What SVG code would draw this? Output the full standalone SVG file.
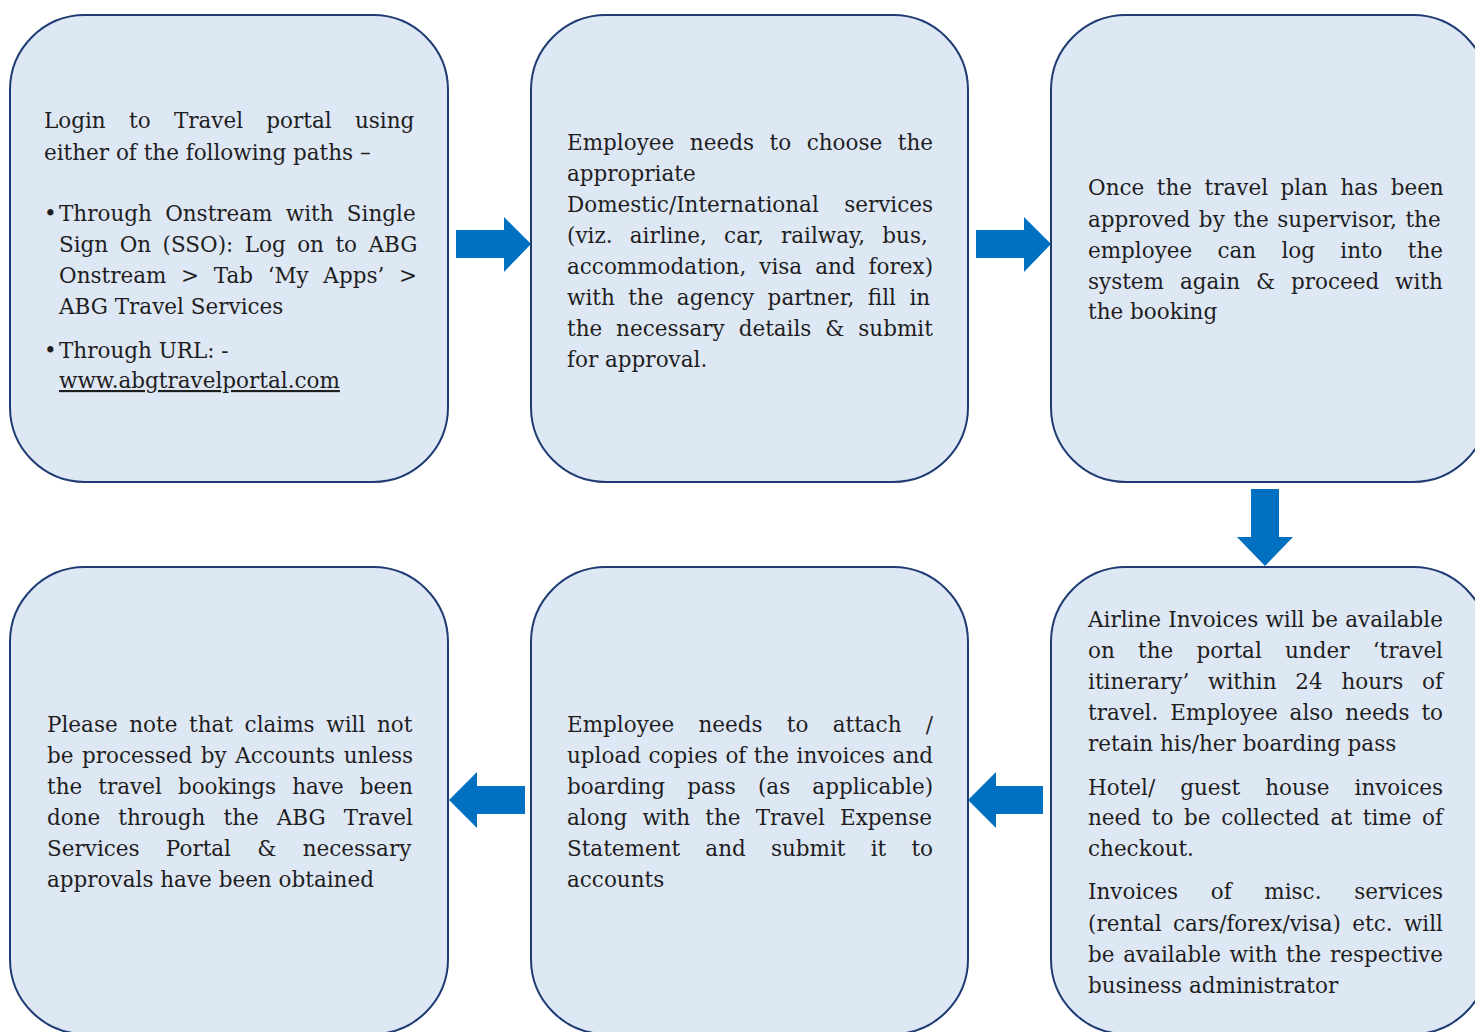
<svg xmlns="http://www.w3.org/2000/svg" width="1475" height="1032" viewBox="0 0 1475 1032">
<style>
.box{fill:#DEE8F5;stroke:#1F3B73;stroke-width:2}
.arr{fill:#0070C0}
.t{font-family:"DejaVu Serif","Liberation Serif",serif;font-size:21.5px;fill:#1e1e1e}
</style>
<rect width="1475" height="1032" fill="#ffffff"/>
<g id="connectors">
<polygon class="arr" points="456,230 504,230 504,217 531,244 504,272 504,258 456,258"/>
<polygon class="arr" points="976,230 1024,230 1024,217 1051,244 1024,272 1024,258 976,258"/>
<polygon class="arr" points="1251,489 1279,489 1279,537 1293,537 1265,566 1237,537 1251,537"/>
<polygon class="arr" points="1043,786 996,786 996,772 968,800 996,828 996,814 1043,814"/>
<polygon class="arr" points="525,786 477,786 477,772 449,800 477,828 477,814 525,814"/>
</g>
<g id="node1">
<rect class="box" x="10" y="15" width="438" height="467" rx="75" ry="75"/>
<text class="t" x="44" y="128" word-spacing="16.46">Login to Travel portal using</text>
<text class="t" x="44" y="160">either of the following paths –</text>
<text class="t" x="44" y="221">•</text>
<text class="t" x="59" y="221" word-spacing="6.45">Through Onstream with Single</text>
<text class="t" x="59" y="252" word-spacing="4.61">Sign On (SSO): Log on to ABG</text>
<text class="t" x="59" y="283" word-spacing="7.85">Onstream &gt; Tab ‘My Apps’ &gt;</text>
<text class="t" x="59" y="314">ABG Travel Services</text>
<text class="t" x="44" y="358">•</text>
<text class="t" x="59" y="358">Through URL: -</text>
<text class="t" x="59" y="388" text-decoration="underline">www.abgtravelportal.com</text>
</g>
<g id="node2">
<rect class="box" x="531" y="15" width="437" height="467" rx="75" ry="75"/>
<text class="t" x="567" y="150" word-spacing="8.75">Employee needs to choose the</text>
<text class="t" x="567" y="181">appropriate</text>
<text class="t" x="567" y="212" word-spacing="18.52">Domestic/International services</text>
<text class="t" x="567" y="243" word-spacing="10.37">(viz. airline, car, railway, bus,</text>
<text class="t" x="567" y="274" word-spacing="6.17">accommodation, visa and forex)</text>
<text class="t" x="567" y="305" word-spacing="6.60">with the agency partner, fill in</text>
<text class="t" x="567" y="336" word-spacing="7.06">the necessary details &amp; submit</text>
<text class="t" x="567" y="367">for approval.</text>
</g>
<g id="node3">
<rect class="box" x="1051" y="15" width="437" height="467" rx="75" ry="75"/>
<text class="t" x="1088" y="195" word-spacing="5.71">Once the travel plan has been</text>
<text class="t" x="1088" y="227" word-spacing="1.84">approved by the supervisor, the</text>
<text class="t" x="1088" y="258" word-spacing="18.39">employee can log into the</text>
<text class="t" x="1088" y="289" word-spacing="9.08">system again &amp; proceed with</text>
<text class="t" x="1088" y="319">the booking</text>
</g>
<g id="node4">
<rect class="box" x="1051" y="567" width="437" height="467" rx="75" ry="75"/>
<text class="t" x="1088" y="627" word-spacing="0.32">Airline Invoices will be available</text>
<text class="t" x="1088" y="658" word-spacing="16.39">on the portal under ‘travel</text>
<text class="t" x="1088" y="689" word-spacing="11.91">itinerary’ within 24 hours of</text>
<text class="t" x="1088" y="720" word-spacing="5.19">travel. Employee also needs to</text>
<text class="t" x="1088" y="751">retain his/her boarding pass</text>
<text class="t" x="1088" y="795" word-spacing="18.14">Hotel/ guest house invoices</text>
<text class="t" x="1088" y="825" word-spacing="3.87">need to be collected at time of</text>
<text class="t" x="1088" y="856">checkout.</text>
<text class="t" x="1088" y="899" word-spacing="25.82">Invoices of misc. services</text>
<text class="t" x="1088" y="931" word-spacing="4.56">(rental cars/forex/visa) etc. will</text>
<text class="t" x="1088" y="962" word-spacing="1.87">be available with the respective</text>
<text class="t" x="1088" y="993">business administrator</text>
</g>
<g id="node5">
<rect class="box" x="531" y="567" width="437" height="467" rx="75" ry="75"/>
<text class="t" x="567" y="732" word-spacing="17.42">Employee needs to attach /</text>
<text class="t" x="567" y="763" word-spacing="0.68">upload copies of the invoices and</text>
<text class="t" x="567" y="794" word-spacing="15.30">boarding pass (as applicable)</text>
<text class="t" x="567" y="825" word-spacing="8.32">along with the Travel Expense</text>
<text class="t" x="567" y="856" word-spacing="18.36">Statement and submit it to</text>
<text class="t" x="567" y="887">accounts</text>
</g>
<g id="node6">
<rect class="box" x="10" y="567" width="438" height="467" rx="75" ry="75"/>
<text class="t" x="47" y="732" word-spacing="4.79">Please note that claims will not</text>
<text class="t" x="47" y="763" word-spacing="1.67">be processed by Accounts unless</text>
<text class="t" x="47" y="794" word-spacing="9.27">the travel bookings have been</text>
<text class="t" x="47" y="825" word-spacing="11.19">done through the ABG Travel</text>
<text class="t" x="47" y="856" word-spacing="19.46">Services Portal &amp; necessary</text>
<text class="t" x="47" y="887">approvals have been obtained</text>
</g>
</svg>
